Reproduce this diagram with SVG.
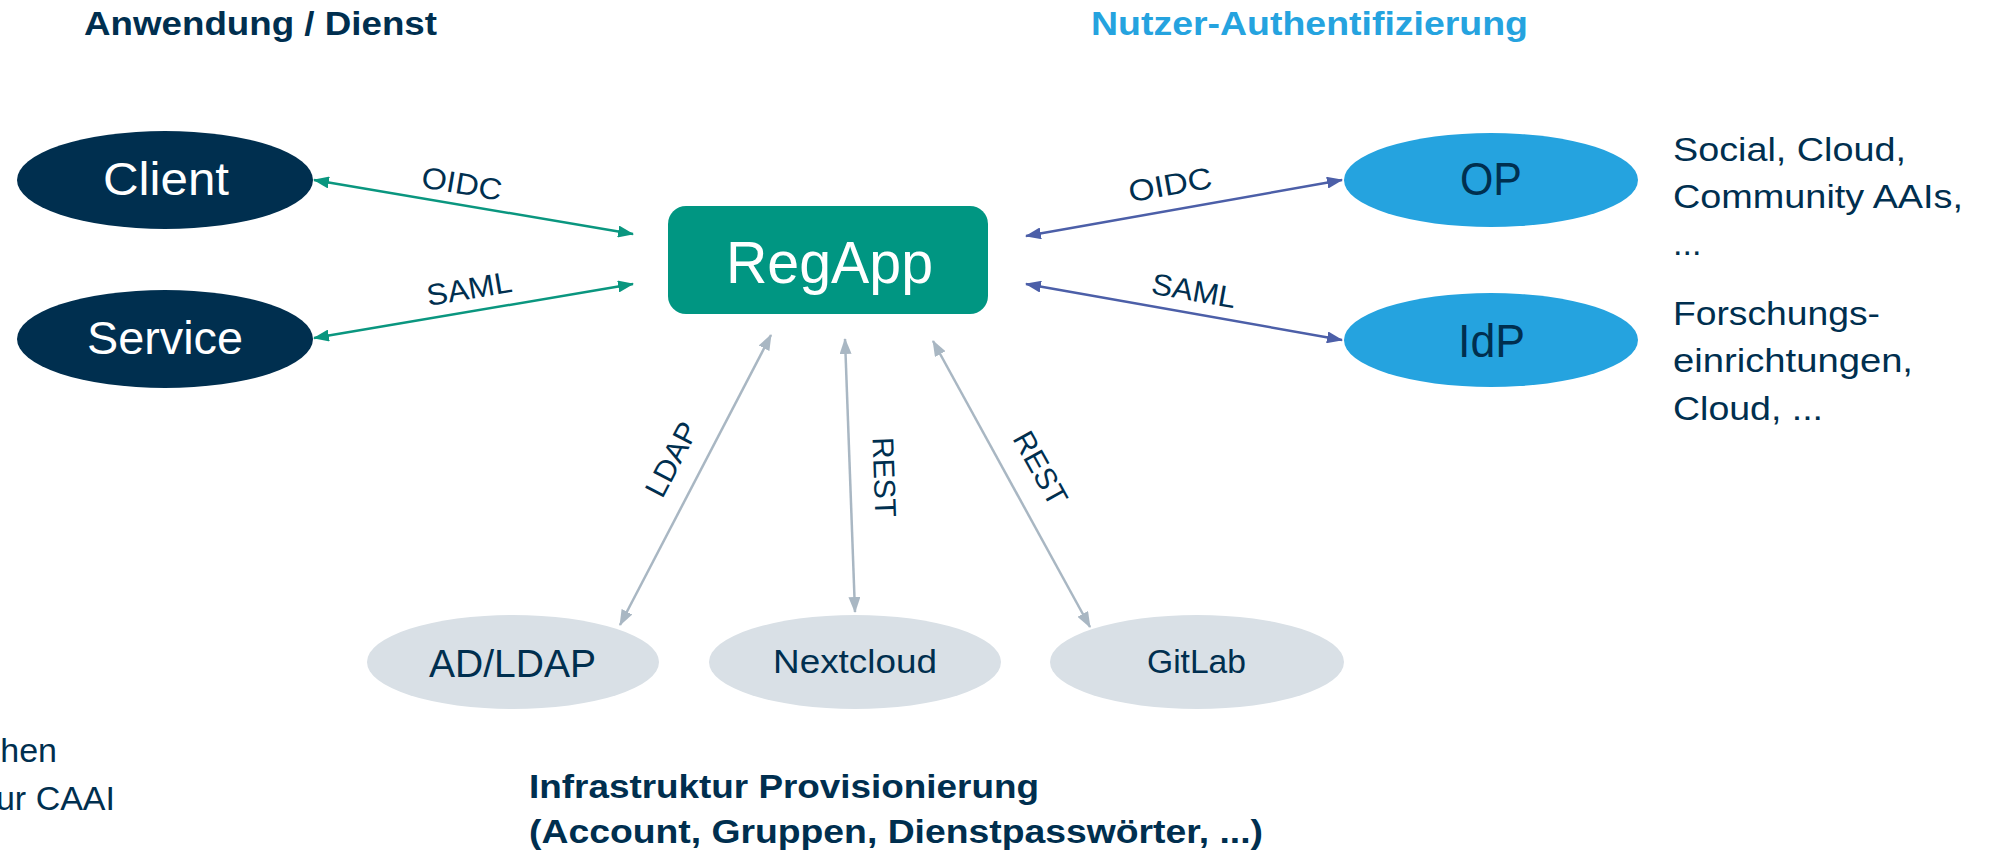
<svg xmlns="http://www.w3.org/2000/svg" width="1989" height="852" viewBox="0 0 1989 852">
<style>
text{font-family:"Liberation Sans",Arial,sans-serif;}
.title{font-weight:bold;font-size:33px;}
.navy{fill:#002f4f;}
.node-dark{fill:#002f4f;}
.node-blue{fill:#25a3df;}
.node-gray{fill:#d9e0e6;}
.wt{fill:#ffffff;}
.lbl{font-size:30px;fill:#002f4f;text-anchor:middle;}
.side{font-size:34px;fill:#002f4f;}
.cg{stroke:#0a967f;stroke-width:2.5;fill:none;marker-start:url(#mg);marker-end:url(#mg);}
.cb{stroke:#4c5fa8;stroke-width:2.5;fill:none;marker-start:url(#mb);marker-end:url(#mb);}
.cy{stroke:#a9b7c3;stroke-width:2.5;fill:none;marker-start:url(#my);marker-end:url(#my);}
</style>
<defs>
<marker id="mg" viewBox="0 0 16 12" refX="15" refY="6" markerWidth="16" markerHeight="12" markerUnits="userSpaceOnUse" orient="auto-start-reverse"><path d="M0,0 L16,6 L0,12 z" fill="#0a967f"/></marker>
<marker id="mb" viewBox="0 0 16 12" refX="15" refY="6" markerWidth="16" markerHeight="12" markerUnits="userSpaceOnUse" orient="auto-start-reverse"><path d="M0,0 L16,6 L0,12 z" fill="#4c5fa8"/></marker>
<marker id="my" viewBox="0 0 16 12" refX="15" refY="6" markerWidth="16" markerHeight="12" markerUnits="userSpaceOnUse" orient="auto-start-reverse"><path d="M0,0 L16,6 L0,12 z" fill="#a9b7c3"/></marker>
</defs>
<rect width="1989" height="852" fill="#ffffff"/>

<g id="headings">
<text class="title navy" x="84" y="35" textLength="353" lengthAdjust="spacingAndGlyphs">Anwendung / Dienst</text>
<text class="title" x="1091" y="35" fill="#25a3df" textLength="437" lengthAdjust="spacingAndGlyphs">Nutzer-Authentifizierung</text>
<text class="title navy" x="529" y="798" textLength="510" lengthAdjust="spacingAndGlyphs">Infrastruktur Provisionierung</text>
<text class="title navy" x="529" y="843" textLength="734" lengthAdjust="spacingAndGlyphs">(Account, Gruppen, Dienstpasswörter, ...)</text>
</g>

<g id="connectors">
<line class="cg" x1="314" y1="180" x2="633" y2="234"/>
<line class="cg" x1="314" y1="338" x2="633" y2="284"/>
<line class="cb" x1="1026" y1="236" x2="1342" y2="180"/>
<line class="cb" x1="1026" y1="284" x2="1342" y2="340"/>
<line class="cy" x1="771" y1="335" x2="620" y2="625"/>
<line class="cy" x1="845" y1="339" x2="855" y2="612"/>
<line class="cy" x1="933" y1="341" x2="1090" y2="627"/>
<text class="lbl" transform="translate(462,183) rotate(9.6)" y="11" textLength="81" lengthAdjust="spacingAndGlyphs">OIDC</text>
<text class="lbl" transform="translate(469,288) rotate(-9.6)" y="11" textLength="86" lengthAdjust="spacingAndGlyphs">SAML</text>
<text class="lbl" transform="translate(1170,184) rotate(-10)" y="11" textLength="84" lengthAdjust="spacingAndGlyphs">OIDC</text>
<text class="lbl" transform="translate(1194,290) rotate(10)" y="11" textLength="85" lengthAdjust="spacingAndGlyphs">SAML</text>
<text class="lbl" transform="translate(671,459) rotate(-62.5)" y="11" textLength="80" lengthAdjust="spacingAndGlyphs">LDAP</text>
<text class="lbl" transform="translate(885,477) rotate(88)" y="11" textLength="80" lengthAdjust="spacingAndGlyphs">REST</text>
<text class="lbl" transform="translate(1041,468) rotate(61)" y="11" textLength="80" lengthAdjust="spacingAndGlyphs">REST</text>
</g>

<g id="node-client">
<ellipse class="node-dark" cx="165" cy="180" rx="148" ry="49"/>
<text class="wt" x="103" y="195" font-size="46" textLength="126" lengthAdjust="spacingAndGlyphs">Client</text>
</g>
<g id="node-service">
<ellipse class="node-dark" cx="165" cy="339" rx="148" ry="49"/>
<text class="wt" x="87" y="354" font-size="46" textLength="156" lengthAdjust="spacingAndGlyphs">Service</text>
</g>
<g id="node-regapp">
<rect x="668" y="206" width="320" height="108" rx="18" fill="#009682"/>
<text class="wt" x="726" y="283" font-size="60" textLength="207" lengthAdjust="spacingAndGlyphs">RegApp</text>
</g>
<g id="node-op">
<ellipse class="node-blue" cx="1491" cy="180" rx="147" ry="47"/>
<text class="navy" x="1460" y="195" font-size="46" textLength="62" lengthAdjust="spacingAndGlyphs">OP</text>
</g>
<g id="node-idp">
<ellipse class="node-blue" cx="1491" cy="340" rx="147" ry="47"/>
<text class="navy" x="1458" y="357" font-size="46" textLength="67" lengthAdjust="spacingAndGlyphs">IdP</text>
</g>
<g id="node-adldap">
<ellipse class="node-gray" cx="513" cy="662" rx="146" ry="47"/>
<text class="navy" x="429" y="677" font-size="38" textLength="167" lengthAdjust="spacingAndGlyphs">AD/LDAP</text>
</g>
<g id="node-nextcloud">
<ellipse class="node-gray" cx="855" cy="662" rx="146" ry="47"/>
<text class="navy" x="773" y="673" font-size="33" textLength="164" lengthAdjust="spacingAndGlyphs">Nextcloud</text>
</g>
<g id="node-gitlab">
<ellipse class="node-gray" cx="1197" cy="662" rx="147" ry="47"/>
<text class="navy" x="1147" y="673" font-size="33" textLength="99" lengthAdjust="spacingAndGlyphs">GitLab</text>
</g>

<g id="notes">
<text class="side" x="1673" y="161" textLength="233" lengthAdjust="spacingAndGlyphs">Social, Cloud,</text>
<text class="side" x="1673" y="208" textLength="290" lengthAdjust="spacingAndGlyphs">Community AAIs,</text>
<text class="side" x="1673" y="255">...</text>
<text class="side" x="1673" y="325" textLength="207" lengthAdjust="spacingAndGlyphs">Forschungs-</text>
<text class="side" x="1673" y="372" textLength="240" lengthAdjust="spacingAndGlyphs">einrichtungen,</text>
<text class="side" x="1673" y="420" textLength="150" lengthAdjust="spacingAndGlyphs">Cloud, ...</text>
<text class="side" x="57" y="762" text-anchor="end" font-size="38">hen</text>
<text class="side" x="115" y="810" text-anchor="end" font-size="38">ur CAAI</text>
</g>
</svg>
